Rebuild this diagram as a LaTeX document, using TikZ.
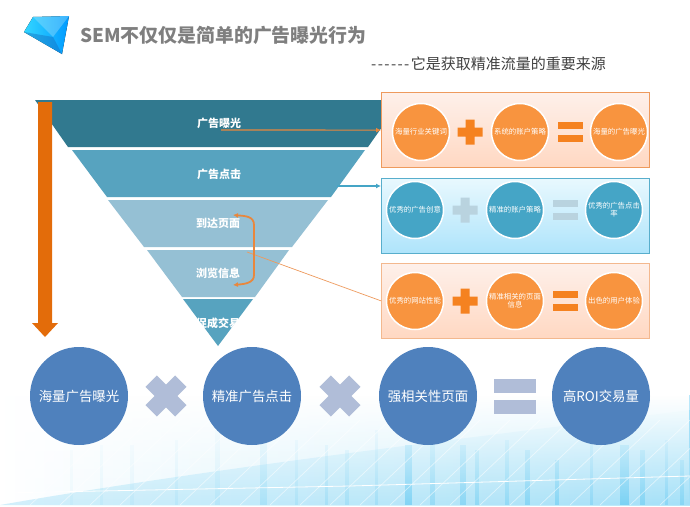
\documentclass[tikz,border=0pt]{standalone}
\usepackage{fontspec}
\setmainfont{Noto Sans CJK SC}
\usetikzlibrary{arrows.meta,fadings}
\definecolor{tgrey}{HTML}{7F7F7F}
\definecolor{oc}{HTML}{F8943F}
\definecolor{bc}{HTML}{45A5C6}
\definecolor{big}{HTML}{4F81BD}
\definecolor{signo}{HTML}{F58220}
\definecolor{signb}{HTML}{B9D3DF}
\definecolor{signx}{HTML}{B0BDD8}
\definecolor{arrowo}{HTML}{E36C0A}
\definecolor{lineo}{HTML}{EE9A5D}
\definecolor{curveo}{HTML}{E8873D}
\definecolor{fa}{HTML}{31798F}
\definecolor{fb}{HTML}{57A3BF}
\definecolor{fc}{HTML}{95C0D4}
\definecolor{skyb}{HTML}{7FD4F5}
\definecolor{skyc}{HTML}{4FC3F2}
\tikzset{
  x=1pt,y=-1pt,
  panel/.style={anchor=north west,minimum width=268pt,minimum height=75pt,inner sep=0pt,line width=1.3pt},
  smallc/.style={circle,minimum size=57pt,inner sep=0pt,draw=white,line width=1.5pt,text=white,font=\fontsize{7.4}{8.2}\selectfont,align=center,text width=54pt},
  bigc/.style={circle,minimum size=98pt,inner sep=0pt,fill=big,text=white,font=\fontsize{13.4}{15}\selectfont},
  blabel/.style={text=white,font=\fontsize{11}{13}\selectfont\bfseries,inner sep=0pt},
  link/.style={line width=1.2pt,-{Latex[length=5pt,width=5pt]}},
}
\newcommand{\plussign}[3]{\fill[#3] (#1-12.5,#2-4.5) -- ++(8,0) -- ++(0,-8) -- ++(9,0) -- ++(0,8) -- ++(8,0) -- ++(0,9) -- ++(-8,0) -- ++(0,8) -- ++(-9,0) -- ++(0,-8) -- ++(-8,0) -- cycle;}
\newcommand{\equalsign}[3]{\fill[#3] (#1-12.5,#2-10) rectangle (#1+12.5,#2-3); \fill[#3] (#1-12.5,#2+3) rectangle (#1+12.5,#2+10);}
\newcommand{\timessign}[2]{\begin{scope}[shift={(#1,#2)},rotate=45]\fill[signx] (-21,-8) rectangle (21,8); \fill[signx] (-8,-21) rectangle (8,21);\end{scope}}
\newcommand{\hy}{-\kern1.4pt}
\begin{document}
\begin{tikzpicture}
\useasboundingbox (0,0) rectangle (690,506);
\fill[white] (0,0) rectangle (690,506);
% background
\begin{scope}
\clip (0,395) rectangle (690,505);
\shade[left color=white,right color=skyb!55!white] (0,395) rectangle (690,505);
\fill[skyb,opacity=.35] (0,505) .. controls (200,470) and (450,440) .. (690,410) -- (690,505) -- cycle;
\foreach \xa/\ya/\w/\o in {70/450/3/.06,100/445/3/.08,130/445/4/.08,175/440/3/.1,215/430/5/.12,260/430/7/.2,295/440/3/.15,325/445/3/.2,345/450/4/.2,375/430/3/.2,405/445/7/.5,430/440/5/.3,460/445/6/.4,475/450/4/.35,505/440/4/.3,525/450/5/.4,555/460/4/.4,590/440/3/.3,620/445/9/.5,640/450/5/.4,665/440/3/.3,680/460/4/.35}{
  \fill[skyc,opacity=\o] (\xa,\ya) rectangle (\xa+\w,505);
}
\foreach \i in {0,...,26}{
  \draw[white,line width=.7pt,opacity=.55] (\i*30-60,505) -- (\i*30+30,420);
}
\draw[white,line width=.8pt] (0,493) -- (350,486) -- (690,476);
\fill[white,path fading=south] (0,395) rectangle (690,505);
\end{scope}
% title
\fill[left color=cyan!80!blue!80!white,right color=cyan!60!blue] (24,32) -- (33,17) -- (69,16) -- (62,54) -- cycle;
\fill[cyan!50!blue,opacity=.45] (24,32) -- (53,37) -- (62,54) -- cycle;
\fill[cyan!30!white,opacity=.35] (33,17) -- (69,16) -- (53,37) -- cycle;
\node[anchor=west,inner sep=0pt,text=tgrey,font=\fontsize{18.9}{21}\selectfont\bfseries] (title) at (80,35) {SEM不仅仅是简单的广告曝光行为};
\node[anchor=west,inner sep=0pt,text=black!75,font=\fontsize{15}{17}\selectfont] (subtitle) at (371,64) {\hy\hy\hy\hy\hy\hy 它是获取精准流量的重要来源};
% funnel
\fill[fa] (35,100) -- (401,100) -- (368,147) -- (68,147) -- cycle;
\fill[fb] (72,150) -- (365,150) -- (331,197) -- (107,197) -- cycle;
\fill[fc] (108,200) -- (328,200) -- (292,247) -- (144,247) -- cycle;
\fill[fc] (147,250) -- (289,250) -- (255,297) -- (182,297) -- cycle;
\fill[fb] (183,299) -- (253,299) -- (218,346) -- cycle;
\node[blabel] (f1) at (219,123) {广告曝光};
\node[blabel] (f2) at (219,174) {广告点击};
\node[blabel] (f3) at (218,223) {到达页面};
\node[blabel] (f4) at (218,273) {浏览信息};
\node[blabel] (f5) at (218,323) {促成交易};
% side arrow
\fill[arrowo] (38,102) -- (52,102) -- (52,323) -- (58,323) -- (45,337) -- (32,323) -- (38,323) -- cycle;
% panels
\definecolor{p1t}{HTML}{FEF0EA}\definecolor{p1b}{HTML}{FFD8C2}
\definecolor{p2t}{HTML}{E8F8FE}\definecolor{p2b}{HTML}{AEE4FB}
\node[panel,draw=lineo,top color=p1t,bottom color=p1b] (p1) at (381,92) {};
\node[panel,draw=bc!90!white,top color=p2t,bottom color=p2b] (p2) at (381,178) {};
\node[panel,draw=lineo!70!white,line width=.7pt,top color=p1t,bottom color=p1b] (p3) at (381,263) {};
% small circles
\node[smallc,fill=oc] (a1) at (421,132) {海量行业关键词};
\node[smallc,fill=oc] (a2) at (520,132) {系统的账户策略};
\node[smallc,fill=oc] (a3) at (619,132) {海量的广告曝光};
\node[smallc,fill=bc] (b1) at (415,210) {优秀的广告创意};
\node[smallc,fill=bc] (b2) at (515,210) {精准的账户策略};
\node[smallc,fill=bc] (b3) at (614,210) {优秀的广告点击\\率};
\node[smallc,fill=oc] (c1) at (415,301) {优秀的网站性能};
\node[smallc,fill=oc] (c2) at (515,301) {精准相关的页面\\信息};
\node[smallc,fill=oc] (c3) at (614,301) {出色的用户体验};
\plussign{470}{132}{signo}
\equalsign{570}{132}{signo}
\plussign{465}{210}{signb}
\equalsign{565}{210}{signb}
\plussign{465}{301}{signo}
\equalsign{565}{301}{signo}
% big circles
\node[bigc] (d1) at (79,396) {海量广告曝光};
\node[bigc] (d2) at (252,396) {精准广告点击};
\node[bigc] (d3) at (428,396) {强相关性页面};
\node[bigc] (d4) at (601,396) {高ROI交易量};
\timessign{166}{396}
\timessign{340}{396}
\fill[signx] (494,379) rectangle (536,393);
\fill[signx] (494,400) rectangle (536,414);
% connectors
\coordinate (s1) at (221,130);
\coordinate (s2) at (337,186);
\coordinate (e2) at (381,186);
\coordinate (s3) at (247,252);
\coordinate (u1) at (233,215);
\coordinate (u2) at (233,285);
\draw[link,draw=curveo] (s1) -- (p1.west);
\draw[link,draw=bc] (s2) -- (e2);
\draw[draw=lineo,line width=.7pt] (s3) -- (p3.west);
\draw[draw=curveo,line width=1.8pt,{Latex[length=5pt,width=5pt]}-{Latex[length=5pt,width=5pt]}] (u1) .. controls (245,216) and (254,216) .. (254,225) -- (254,275) .. controls (254,283) and (245,284) .. (u2);
\end{tikzpicture}
\end{document}
